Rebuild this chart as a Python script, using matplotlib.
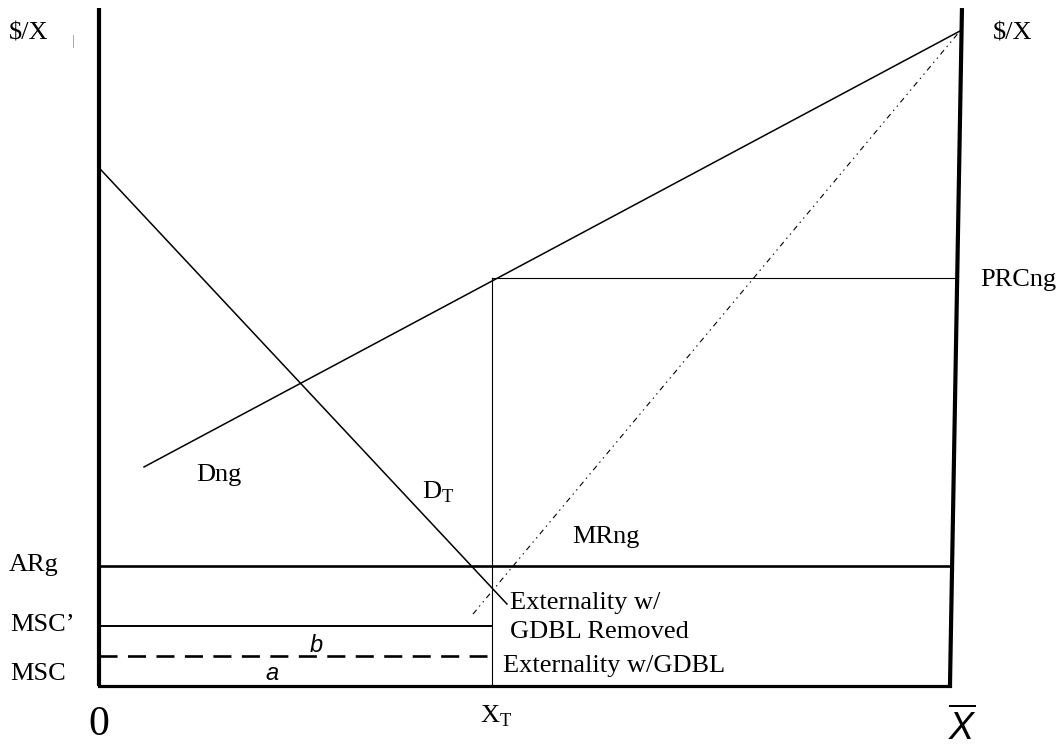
import matplotlib
matplotlib.use("Agg")
import matplotlib.pyplot as plt

plt.rcParams['font.family'] = ['Liberation Serif', 'DejaVu Serif']
plt.rcParams['mathtext.fontset'] = 'custom'
plt.rcParams['mathtext.rm'] = 'Liberation Serif'
plt.rcParams['mathtext.it'] = 'Liberation Sans:italic'
plt.rcParams['lines.scale_dashes'] = False

# ---- diagram data (quantity 0..Xbar=100, price $ units) ----
X_BAR = 100.0
X_T = 46.18
PRC_NG = 62.29
AR_G = 18.32
MSC_PRIME = 9.16
MSC = 4.58
TOP = 103.5

left_wall_x = [0.0, 0.0]
left_wall_y = [0.0, TOP]
right_wall_x = [X_BAR, 101.41]
right_wall_y = [0.0, TOP]

supply_x = [5.29, 101.18]      # upward sloping Dng / supply line
supply_y = [33.44, 100.0]
dt_x = [0.24, 47.94]           # D_T demand line
dt_y = [78.78, 12.52]
mr_x = [43.95, 101.18]         # MRng dash-dot line
mr_y = [10.99, 100.0]

fig = plt.figure(figsize=(10.6, 7.46), dpi=100)
ax = fig.add_axes([0, 0, 1, 1])
ax.set_xlim(-11.633, 112.93)
ax.set_ylim(-9.16, 104.73)
ax.axis('off')

k = 'black'
# frame
ax.plot(left_wall_x, left_wall_y, color=k, lw=3.0, solid_capstyle='butt')
ax.plot(right_wall_x, right_wall_y, color=k, lw=3.0, solid_capstyle='butt')
ax.plot([0, X_BAR], [0, 0], color=k, lw=2.3, solid_capstyle='projecting')

# horizontal levels
ax.plot([0, 100.2], [AR_G, AR_G], color=k, lw=1.9)
ax.plot([0, X_T], [MSC_PRIME, MSC_PRIME], color=k, lw=1.4)
ax.plot([0, 45.6], [MSC, MSC], color=k, lw=1.9, linestyle=(0, (13, 7.5)))
ax.plot([X_T, 100.7], [PRC_NG, PRC_NG], color=k, lw=0.8)
ax.plot([X_T, X_T], [0, PRC_NG], color=k, lw=0.8)

# curves
ax.plot(supply_x, supply_y, color=k, lw=1.1)
ax.plot(dt_x, dt_y, color=k, lw=1.1)
ax.plot(mr_x, mr_y, color=k, lw=0.8, linestyle=(0, (4, 3, 1, 3, 1, 3)))

# stray tick mark
ax.plot([-3.06, -3.06], [97.56, 99.39], color='#999999', lw=0.6)

fs = 19
def t(x, y, s, **kw):
    kw.setdefault('fontsize', fs)
    ax.text(x, y, s, ha='left', va='baseline', **kw)

t(-10.58, 98.63, '$/X')
t(105.05, 98.63, '$/X')
t(103.53, 61.07, 'PRCng')
t(11.40, 31.37, 'Dng')
t(37.96, 28.55, r'$\mathrm{D}_\mathrm{T}$')
t(55.58, 21.83, 'MRng')
t(-10.58, 17.56, 'ARg')
t(-10.46, 8.40, 'MSC\u2019')
t(-10.46, 0.92, 'MSC')
t(48.30, 11.68, 'Externality w/')
t(48.30, 7.33, 'GDBL Removed')
t(47.47, 2.14, 'Externality w/GDBL')
t(24.79, 5.19, 'b', family=['Liberation Sans'], style='italic', fontsize=17)
t(19.51, 0.92, 'a', family=['Liberation Sans'], style='italic', fontsize=17)
t(-1.29, -7.48, '0', fontsize=30)
t(44.77, -5.65, r'$\mathrm{X}_\mathrm{T}$')
t(99.76, -8.25, r'$\overline{X}$', fontsize=27)

fig.savefig('out.png', dpi=100)
